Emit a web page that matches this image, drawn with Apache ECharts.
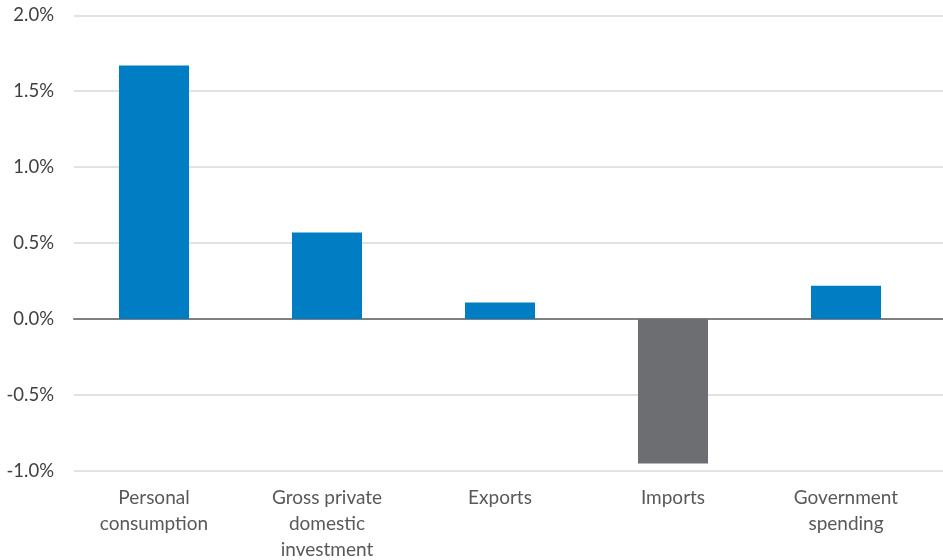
<!DOCTYPE html>
<html><head><meta charset="utf-8">
<script src="https://cdn.jsdelivr.net/npm/echarts@6/dist/echarts.min.js"></script>
<style>html,body{margin:0;padding:0;background:#fff}#c{width:943px;height:560px}</style>
</head><body><div id="c"></div>
<script>
const categories = ["Personal\nconsumption", "Gross private\ndomestic\ninvestment", "Exports", "Imports", "Government\nspending"];
const values = [1.67, 0.57, 0.11, -0.95, 0.22];
const barColors = ["#007DC3", "#007DC3", "#007DC3", "#6D6E71", "#007DC3"];
const yMin = -1.0, yMax = 2.0, yStep = 0.5;

const chart = echarts.init(document.getElementById('c'), null, {renderer: 'canvas'});
const font = 'Lato, "Open Sans", sans-serif';
chart.setOption({
  animation: false,
  grid: [
    {left: 74, right: 0, top: 15.3, bottom: 89, containLabel: false, outerBoundsMode: 'none'},
    {left: 67.5, right: 10.5, top: 15.3, bottom: 89, containLabel: false, outerBoundsMode: 'none'}
  ],
  xAxis: [
    {gridIndex: 0, type: 'category', data: [''], axisLine: {show: true, onZero: true, lineStyle: {color: '#808080', width: 2}},
     axisTick: {show: false}, axisLabel: {show: false}, splitLine: {show: false}},
    {gridIndex: 1, type: 'category', data: categories, position: 'bottom',
     axisLine: {show: false, onZero: false}, axisTick: {show: false},
     axisLabel: {interval: 0, margin: 14, color: '#595959', fontSize: 19, fontFamily: font, lineHeight: 26, verticalAlign: 'top'}}
  ],
  yAxis: [
    {gridIndex: 0, type: 'value', min: yMin, max: yMax, interval: yStep,
     axisLine: {show: false}, axisTick: {show: false},
     axisLabel: {margin: 20, color: '#404040', fontSize: 18.5, fontFamily: font, formatter: v => v.toFixed(1) + '%'},
     splitLine: {show: true, lineStyle: {color: '#D9D9D9', width: 1.5}}},
    {gridIndex: 1, type: 'value', min: yMin, max: yMax, interval: yStep, show: false, splitLine: {show: false}}
  ],
  series: [{
    type: 'bar', xAxisIndex: 1, yAxisIndex: 1, barWidth: 70,
    data: values.map((v, i) => ({value: v, itemStyle: {color: barColors[i]}}))
  }]
});
</script></body></html>
